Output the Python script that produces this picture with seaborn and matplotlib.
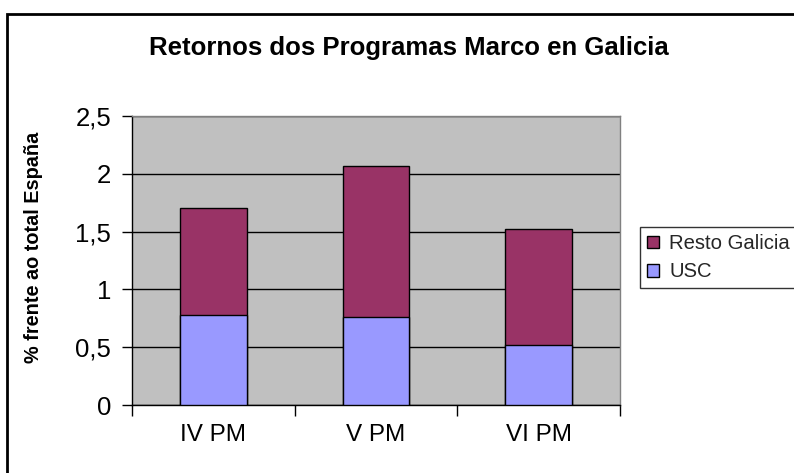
import matplotlib
matplotlib.use("Agg")
import matplotlib.pyplot as plt
from matplotlib.patches import Patch, Rectangle
from matplotlib.ticker import FixedLocator, NullFormatter
import seaborn as sns
import pandas as pd

# Data
programas = ["IV PM", "V PM", "VI PM"]
usc = [0.78, 0.76, 0.52]
resto_galicia = [0.92, 1.31, 1.00]
yticks = [0, 0.5, 1, 1.5, 2, 2.5]
ytick_labels = ["0", "0,5", "1", "1,5", "2", "2,5"]

COLOR_RESTO = "#993366"
COLOR_USC = "#9999FF"

sns.set_theme(style="white")
plt.rcParams["font.family"] = ["Liberation Sans", "DejaVu Sans"]

df = pd.DataFrame({"programa": programas, "usc": usc, "resto": resto_galicia})
df["total"] = df["usc"] + df["resto"]

W, H = 794, 473
fig = plt.figure(figsize=(W / 100, H / 100), dpi=100)
fig.patch.set_facecolor("white")

# plot area in pixel units
x0, x1, y_top, y_bot = 132, 620, 116, 405
ax = fig.add_axes([x0 / W, 1 - y_bot / H, (x1 - x0) / W, (y_bot - y_top) / H])
ax.set_facecolor("#C0C0C0")

# stacked bars: total (upper segment colour) then USC on top of it
sns.barplot(data=df, x="programa", y="total", color=COLOR_RESTO, saturation=1,
            width=0.41, edgecolor="black", linewidth=1.0, ax=ax, zorder=3)
sns.barplot(data=df, x="programa", y="usc", color=COLOR_USC, saturation=1,
            width=0.41, edgecolor="black", linewidth=1.0, ax=ax, zorder=4)

ax.set_xlim(-0.5, 2.5)
ax.set_ylim(0, 2.5)
ax.set_yticks(yticks)
ax.set_yticklabels(ytick_labels)

# category ticks between groups, labels centred on groups
ax.xaxis.set_major_locator(FixedLocator([-0.5, 0.5, 1.5, 2.5]))
ax.xaxis.set_major_formatter(NullFormatter())
ax.xaxis.set_minor_locator(FixedLocator([0, 1, 2]))
ax.set_xticklabels(programas, minor=True)
ax.tick_params(axis="x", which="major", direction="out", length=8, width=1,
               color="black", bottom=True)
ax.tick_params(axis="x", which="minor", length=0, pad=14, labelsize=17.5,
               labelcolor="black", bottom=True)
ax.tick_params(axis="y", direction="out", length=7, width=1, color="black",
               pad=8, labelsize=18.5, labelcolor="black", left=True)

ax.set_xlabel("")
ax.set_ylabel("% frente ao total España", fontsize=14.3, fontweight="bold",
              color="black")
ax.yaxis.set_label_coords(-0.182, 0.545)

ax.grid(axis="y", color="black", linewidth=1)
ax.grid(axis="x", visible=False)
ax.set_axisbelow(True)

for side in ("left", "bottom"):
    ax.spines[side].set_color("black")
    ax.spines[side].set_linewidth(1)
for side in ("top", "right"):
    ax.spines[side].set_visible(True)
    ax.spines[side].set_color("#808080")
    ax.spines[side].set_linewidth(1)

fig.text(409 / W, 1 - 55 / H, "Retornos dos Programas Marco en Galicia",
         ha="center", va="baseline", fontsize=18.5, fontweight="bold",
         color="black")

handles = [Patch(facecolor=COLOR_RESTO, edgecolor="black", linewidth=1),
           Patch(facecolor=COLOR_USC, edgecolor="black", linewidth=1)]
leg = fig.legend(handles, ["Resto Galicia", "USC"], loc="upper left",
                 bbox_to_anchor=(640 / W, 1 - 227 / H), fontsize=14.6,
                 frameon=True, fancybox=False, shadow=False,
                 handlelength=0.6, handleheight=0.6, handletextpad=0.5,
                 labelspacing=0.45, borderpad=0.35, borderaxespad=0)
leg.get_frame().set_edgecolor("black")
leg.get_frame().set_linewidth(1)

# outer chart frame
fig.add_artist(Rectangle((7 / W, -0.1), 1.2, 1.1 - 14 / H,
                         transform=fig.transFigure, fill=False,
                         edgecolor="black", linewidth=2, zorder=10))

fig.savefig("out.png", dpi=100)
